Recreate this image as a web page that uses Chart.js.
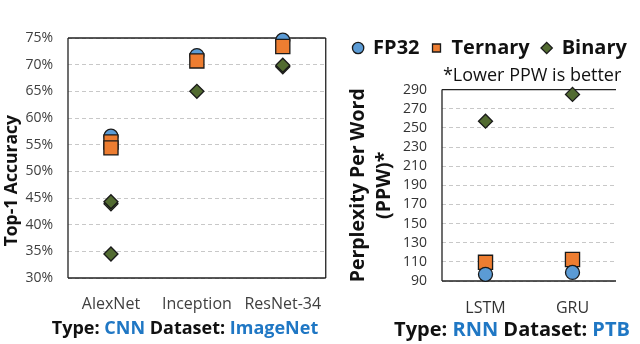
<!DOCTYPE html>
<html>
<head>
<meta charset="utf-8">
<script src="https://cdn.jsdelivr.net/npm/chart.js@4.4.1/dist/chart.umd.min.js"></script>
<style>
  html, body { margin: 0; padding: 0; background: #fff; }
  body { width: 640px; height: 344px; overflow: hidden; position: relative; font-family: 'Open Sans', sans-serif; }
  #cnnWrap { position: absolute; left: 0; top: 0; width: 340px; height: 344px; }
  #rnnWrap { position: absolute; left: 330px; top: 0; width: 320px; height: 344px; }
  .caption { position: absolute; font-weight: bold; font-size: 18px; color: #111; white-space: nowrap; transform: translate(-50%, -50%); }
  .caption .hl { color: #1f77c4; }
</style>
</head>
<body>
<div id="cnnWrap"><canvas id="cnnChart"></canvas></div>
<div id="rnnWrap"><canvas id="rnnChart"></canvas></div>
<div class="caption" style="left:185px; top:327px">Type: <span class="hl">CNN</span> Dataset: <span class="hl">ImageNet</span></div>
<div class="caption" style="left:512px; top:328px; font-size:20px">Type: <span class="hl">RNN</span> Dataset: <span class="hl">PTB</span></div>

<script>
// --- CNN panel (ImageNet top-1 accuracy, %) ---
const cnnModels = ['AlexNet', 'Inception', 'ResNet-34'];
const cnnFp32 = [56.6, 71.7, 74.6];
const cnnTernaryModels = ['AlexNet', 'AlexNet', 'Inception', 'ResNet-34'];
const cnnTernary = [55.5, 54.4, 70.7, 73.4];
const cnnBinaryModels = ['AlexNet', 'AlexNet', 'AlexNet', 'Inception', 'ResNet-34', 'ResNet-34'];
const cnnBinary = [34.5, 43.9, 44.3, 65.0, 69.6, 69.9];

// --- RNN panel (PTB perplexity per word) ---
const rnnModels = ['LSTM', 'GRU'];
const rnnFp32 = [97, 99];
const rnnTernary = [109.5, 112.5];
const rnnBinary = [257, 285];

const BLUE = '#5b9bd5';
const ORANGE = '#ed7d31';
const GREEN = '#526b31';
const EDGE = '#1a1a1a';

const pts = (models, vals) => vals.map((v, i) => ({ x: models[i], y: v }));

// plot frame, drawn under the markers
const framePlugin = {
    id: 'frame',
    beforeDatasetsDraw(chart, args, opts) {
        const { ctx, chartArea: a } = chart;
        const sides = opts.sides || 'trbl';
        ctx.save();
        ctx.strokeStyle = '#222';
        ctx.lineWidth = 1.3;
        ctx.beginPath();
        if (sides.includes('t')) { ctx.moveTo(a.left, a.top); ctx.lineTo(a.right, a.top); }
        if (sides.includes('r')) { ctx.moveTo(a.right, a.top); ctx.lineTo(a.right, a.bottom); }
        if (sides.includes('b')) { ctx.moveTo(a.left, a.bottom); ctx.lineTo(a.right, a.bottom); }
        if (sides.includes('l')) { ctx.moveTo(a.left, a.top); ctx.lineTo(a.left, a.bottom); }
        ctx.stroke();
        ctx.restore();
    }
};

function series(label, data, color, style, radius, order) {
    return {
        label, data, order,
        showLine: false,
        clip: false,
        pointStyle: style,
        pointRadius: radius,
        pointHoverRadius: radius,
        backgroundColor: color,
        pointBackgroundColor: color,
        borderColor: EDGE,
        pointBorderColor: EDGE,
        pointBorderWidth: 1.3,
        borderWidth: 1.3
    };
}

Chart.defaults.font.family = "'Open Sans', sans-serif";
Chart.defaults.animation = false;

// 1. CNN chart
new Chart(document.getElementById('cnnChart'), {
    type: 'line',
    data: {
        labels: cnnModels,
        datasets: [
            series('FP32', pts(cnnModels, cnnFp32), BLUE, 'circle', 7, 1),
            series('Ternary', pts(cnnTernaryModels, cnnTernary), ORANGE, 'rect', 10, 0),
            series('Binary', pts(cnnBinaryModels, cnnBinary), GREEN, 'rectRot', 7, 2)
        ]
    },
    options: {
        responsive: true, maintainAspectRatio: false, events: [],
        layout: { padding: { top: 38, right: 6, left: 0, bottom: 0 } },
        plugins: { legend: { display: false }, tooltip: { enabled: false }, frame: { sides: 'trbl' } },
        scales: {
            x: {
                type: 'category', offset: true,
                grid: { display: false, drawTicks: false }, border: { display: false },
                ticks: { color: '#404040', font: { size: 16 }, padding: 17 },
                afterFit: s => { s.height = 66; }
            },
            y: {
                min: 30, max: 75,
                ticks: { stepSize: 5, callback: v => v + '%', color: '#404040', font: { size: 14 }, padding: 15 },
                grid: { color: '#c8c8c8', drawTicks: false },
                border: { display: false, dash: [4, 3] },
                title: {
                    display: true, text: 'Top-1 Accuracy' + '\u00a0'.repeat(10),
                    color: '#111', font: { size: 17.5, weight: 'bold' }, padding: { top: 2, bottom: 0 }
                },
                afterFit: s => { s.width = 68; }
            }
        }
    },
    plugins: [framePlugin]
});

// 2. RNN chart
new Chart(document.getElementById('rnnChart'), {
    type: 'line',
    data: {
        labels: rnnModels,
        datasets: [
            series('FP32', pts(rnnModels, rnnFp32), BLUE, 'circle', 7, 0),
            series('Ternary', pts(rnnModels, rnnTernary), ORANGE, 'rect', 10, 1),
            series('Binary', pts(rnnModels, rnnBinary), GREEN, 'rectRot', 7, 2)
        ]
    },
    options: {
        responsive: true, maintainAspectRatio: false, events: [],
        layout: { padding: { top: 26, right: 10, left: 10, bottom: 0 } },
        plugins: {
            tooltip: { enabled: false },
            frame: { sides: 'tbl' },
            legend: {
                display: true, position: 'top',
                labels: { usePointStyle: true, boxWidth: 10, boxHeight: 8, padding: 12, color: '#111', font: { size: 20, weight: 'bold' } }
            },
            subtitle: {
                display: true, text: '*Lower PPW is better' + '\u00a0'.repeat(4), align: 'end', weight: 500,
                color: '#111', font: { size: 18 }, padding: { top: -3, bottom: 3 }
            }
        },
        scales: {
            x: {
                type: 'category', offset: true,
                grid: { display: false, drawTicks: false }, border: { display: false },
                ticks: { color: '#333', font: { size: 16 }, padding: 18 },
                afterFit: s => { s.height = 63; }
            },
            y: {
                min: 90, max: 290,
                ticks: { stepSize: 20, autoSkip: false, color: '#333', font: { size: 14 }, padding: 15 },
                grid: { color: '#c8c8c8', drawTicks: false },
                border: { display: false, dash: [4, 3] },
                title: {
                    display: true, text: ['Perplexity Per Word', '(PPW)*'],
                    color: '#111', font: { size: 19.5, weight: 'bold', lineHeight: 1.333 }, padding: { top: 5, bottom: 0 }
                },
                afterFit: s => { s.width = 102; }
            },
            yR: {
                position: 'right', min: 0, max: 1,
                grid: { display: false }, border: { display: false }, ticks: { display: false },
                afterFit: s => { s.width = 24; }
            }
        }
    },
    plugins: [framePlugin]
});
</script>
</body>
</html>
